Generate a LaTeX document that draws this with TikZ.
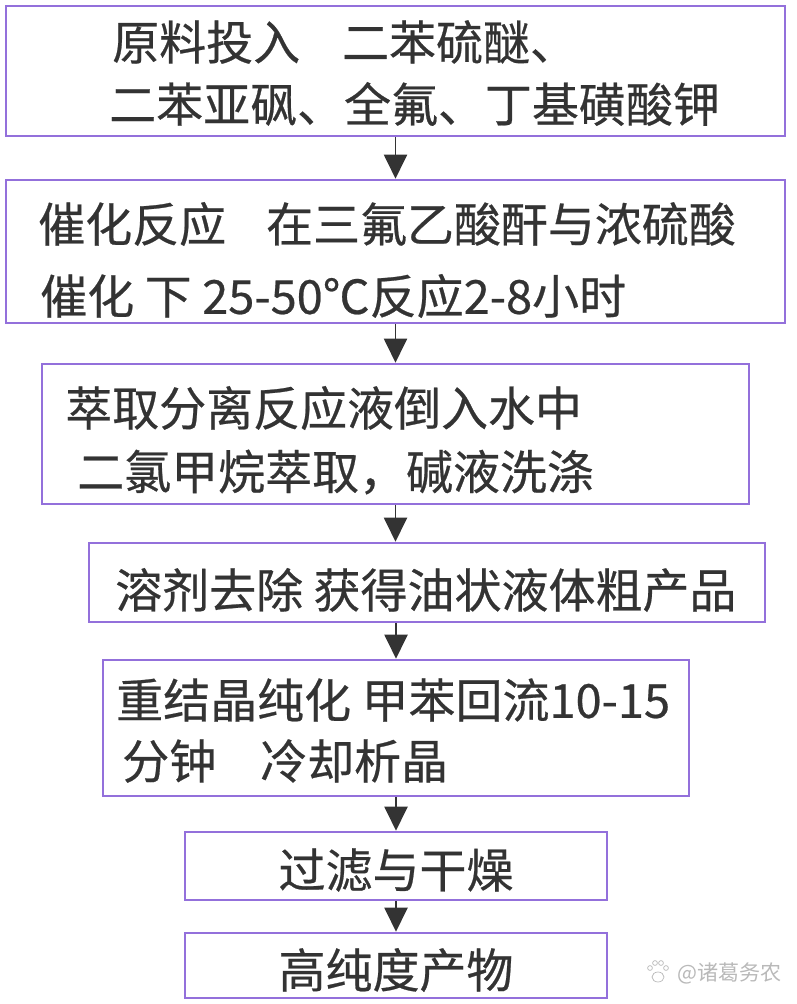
\documentclass[tikz,border=0pt]{standalone}
\usepackage{fontspec}
\setmainfont{Noto Sans CJK SC}[FakeBold=0.5]
\newfontfamily\markfont{Noto Sans CJK SC}
\usetikzlibrary{arrows.meta}
\definecolor{boxline}{RGB}{147,112,219}
\definecolor{ink}{RGB}{51,51,51}
\begin{document}
\begin{tikzpicture}[x=0.025cm,y=-0.025cm,
  box/.style={draw=boxline,line width=1.8pt,fill=white,inner sep=0pt},
  txt/.style={anchor=west,inner sep=0pt,text=ink,font=\fontsize{33.4}{40}\selectfont},
  flow/.style={draw=ink,line width=1.4pt,-{Triangle[length=0.6cm,width=0.575cm]}}]
\useasboundingbox (0,0) rectangle (796,1004);
% boxes
\node[box,minimum width=19.475cm,minimum height=3.25cm] (b1) at (395.5,71) {};
\node[box,minimum width=19.475cm,minimum height=3.575cm] (b2) at (395.5,251.5) {};
\node[box,minimum width=17.675cm,minimum height=3.5cm] (b3) at (395.5,434) {};
\node[box,minimum width=16.9cm,minimum height=1.975cm] (b4) at (427,582.5) {};
\node[box,minimum width=14.65cm,minimum height=3.4cm] (b5) at (396,728) {};
\node[box,minimum width=10.55cm,minimum height=1.7cm] (b6) at (396,866) {};
\node[box,minimum width=10.55cm,minimum height=1.625cm] (b7) at (396,965.5) {};
% texts
\node[txt] (t1a) at (112,42) {原料投入\hspace{10.5mm}二苯硫醚、};
\node[txt] (t1b) at (109,104) {二苯亚砜、全氟、丁基磺酸钾};
\node[txt] (t2a) at (38,224) {催化反应\hspace{10mm}在三氟乙酸酐与浓硫酸};
\node[txt] (t2b) at (40,296) {催化 下 25-50℃反应2-8小时};
\node[txt] (t3a) at (65,408) {萃取分离反应液倒入水中};
\node[txt] (t3b) at (77,472) {二氯甲烷萃取，碱液洗涤};
\node[txt] (t4) at (115,590) {溶剂去除 获得油状液体粗产品};
\node[txt] (t5a) at (116,700) {重结晶纯化 甲苯回流10-15};
\node[txt] (t5b) at (122,761) {分钟\hspace{11mm}冷却析晶};
\node[txt,anchor=center] (t6) at (396,870) {过滤与干燥};
\node[txt,anchor=center] (t7) at (396,970) {高纯度产物};
% arrows
\draw[flow] (b1.south) -- (b2.north);
\draw[flow] (b2.south) -- (b3.north);
\draw[flow] (b3.south) -- (b3.south |- b4.north);
\draw[flow] (b5.north |- b4.south) -- (b5.north);
\draw[flow] (b5.south) -- (b6.north);
\draw[flow] (b6.south) -- (b7.north);
% watermark
\begin{scope}[draw=gray!55,line width=0.5pt]
\draw (658,977) ellipse (0.15cm and 0.125cm);
\foreach \px/\py in {650/968,655/963,661/963,666/968}
  \draw (\px,\py) circle (0.06cm);
\end{scope}
\node[anchor=west,inner sep=0pt,text=gray!55,font=\markfont\fontsize{15}{18}\selectfont] (mark) at (677,973) {@诸葛务农};
\end{tikzpicture}
\end{document}
